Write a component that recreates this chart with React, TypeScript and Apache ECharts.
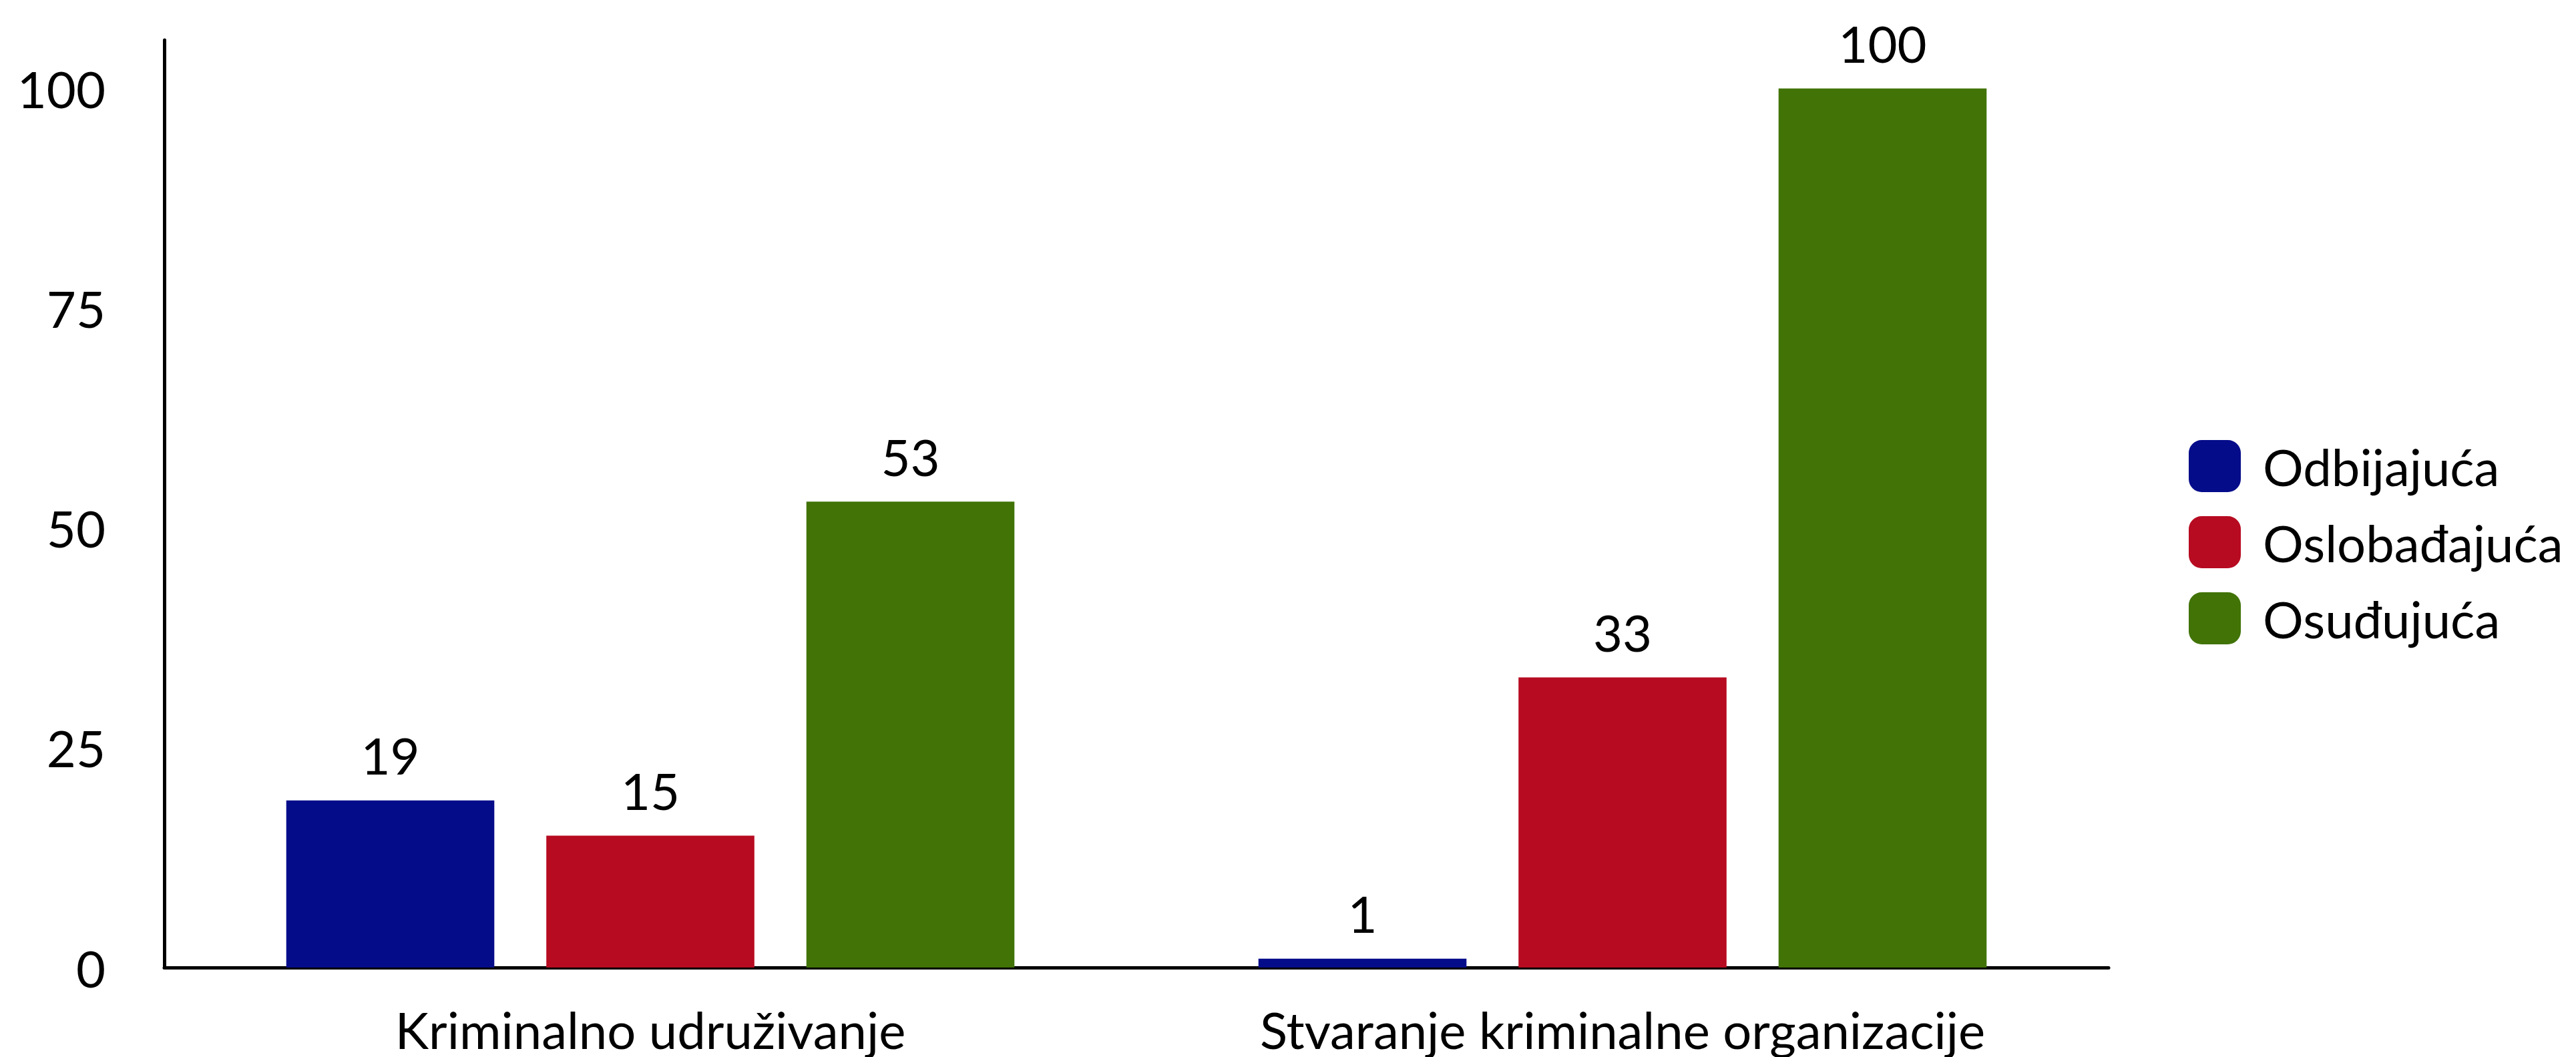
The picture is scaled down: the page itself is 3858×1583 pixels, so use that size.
import React, { useEffect, useRef } from "react";
import * as echarts from "echarts";

const categories = ["Kriminalno udruživanje", "Stvaranje kriminalne organizacije"];
const seriesNames = ["Odbijajuća", "Oslobađajuća", "Osuđujuća"];
const odbijajuca = [19, 1];
const oslobadjajuca = [15, 33];
const osudjujuca = [53, 100];
const yTicks = [0, 25, 50, 75, 100];
const colors = ["#050C8A", "#B70B21", "#417307"];

export default function App() {
  const ref = useRef<HTMLDivElement>(null);
  useEffect(() => {
    if (!ref.current) return;
    const chart = echarts.init(ref.current, undefined, { renderer: "svg" });
    const font = "Lato";
    const fs = 76;
    const values = [odbijajuca, oslobadjajuca, osudjujuca];
    chart.setOption({
      animation: false,
      backgroundColor: "#ffffff",
      textStyle: { fontFamily: font },
      grid: { left: 246, right: 700, top: 60, bottom: 134, containLabel: false },
      legend: {
        orient: "vertical",
        left: 3273,
        top: 654,
        itemWidth: 78,
        itemHeight: 78,
        itemGap: 36,
        icon: "roundRect",
        data: seriesNames,
        textStyle: { fontFamily: font, fontSize: fs, color: "#000", padding: [0, 0, 0, 28] },
      },
      xAxis: {
        type: "category",
        data: categories,
        axisLine: { show: true, lineStyle: { color: "#000", width: 5 } },
        axisTick: { show: false },
        axisLabel: { fontFamily: font, fontSize: fs, color: "#000", margin: 54, interval: 0 },
      },
      yAxis: {
        type: "value",
        min: 0,
        max: 105.5,
        interval: 25,
        axisLine: { show: true, lineStyle: { color: "#000", width: 5 } },
        axisTick: { show: false },
        splitLine: { show: false },
        axisLabel: {
          fontFamily: font,
          fontSize: fs,
          color: "#000",
          margin: 88,
          showMaxLabel: false,
          formatter: (v: number) => (yTicks.includes(v) ? String(v) : ""),
        },
      },
      series: seriesNames.map((name, i) => ({
        name,
        type: "bar",
        data: values[i],
        barWidth: "21.4%",
        barGap: "25%",
        itemStyle: { color: colors[i] },
        label: {
          show: true,
          position: "top",
          distance: 30,
          fontFamily: font,
          fontSize: fs,
          color: "#000",
        },
      })),
    });
    return () => chart.dispose();
  }, []);
  return (
    <div
      ref={ref}
      style={{ position: "absolute", left: 0, top: 0, width: 3858, height: 1583 }}
    />
  );
}
